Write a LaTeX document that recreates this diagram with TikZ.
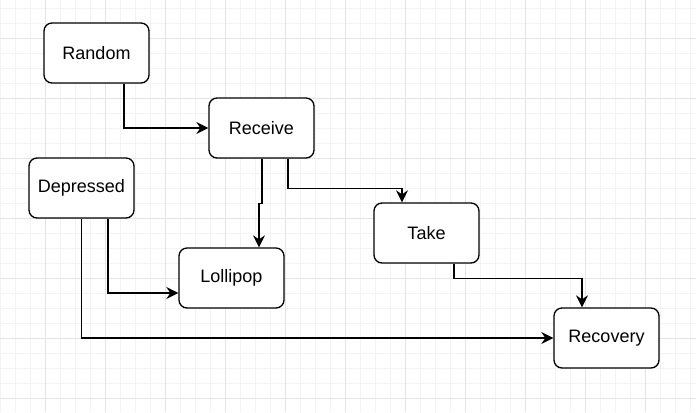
\documentclass[tikz,border=0pt]{standalone}
\usepackage{fontspec}
\setmainfont{Liberation Sans}
\usetikzlibrary{arrows.meta,positioning,calc}

\definecolor{gridminor}{HTML}{F3F3F3}
\definecolor{gridmajor}{HTML}{E4E4E4}

\begin{document}
\begin{tikzpicture}[
    x=0.75pt, y=-0.75pt,
    state/.style={rectangle, draw, rounded corners=6pt, fill=white, line width=1pt,
        minimum width=78.75pt, minimum height=45pt, align=center,
        font=\fontsize{13.5}{16}\selectfont},
    arrow/.style={-{Stealth[length=9pt, width=9pt, inset=3pt]}, line width=1pt}
]

% Canvas and grid
\useasboundingbox (0,0) rectangle (696,412);
\fill[white] (0,0) rectangle (696,412);
\foreach \x in {0,...,46} {
    \draw[gridminor, line width=0.75pt] (0.7+15*\x,0) -- (0.7+15*\x,412);
}
\foreach \y in {0,...,27} {
    \draw[gridminor, line width=0.75pt] (0,8.7+15*\y) -- (696,8.7+15*\y);
}
\foreach \x in {0,...,11} {
    \draw[gridmajor, line width=0.75pt] (45.7+60*\x,0) -- (45.7+60*\x,412);
}
\foreach \y in {0,...,6} {
    \draw[gridmajor, line width=0.75pt] (0,38.7+60*\y) -- (696,38.7+60*\y);
}

% States
\node[state] (rnd) at (96.5,53) {Random};
\node[state] (rec) at (261.5,128) {Receive};
\node[state] (dep) at (81.5,188) {Depressed};
\node[state] (tak) at (426.5,233) {Take};
\node[state] (lol) at (231.5,278) {Lollipop};
\node[state] (rcv) at (606.5,338) {Recovery};

% Connectors
\draw[arrow] ($(rnd.south)+(27.5,0)$) |- (rec.west);
\draw[arrow] ($(rec.south)+(0.5,0)$) -- ++(0,45) -| ($(lol.north)+(27.5,0)$);
\draw[arrow] ($(rec.south)+(26.5,0)$) -- ++(0,30) -| ($(tak.north)+(-24.5,0)$);
\draw[arrow] ($(tak.south)+(27.5,0)$) -- ++(0,15) -| ($(rcv.north)+(-24.5,0)$);
\draw[arrow] ($(dep.south)+(26.5,0)$) |- ($(lol.west)+(0,15)$);
\draw[arrow] (dep.south) |- (rcv.west);

\end{tikzpicture}
\end{document}
